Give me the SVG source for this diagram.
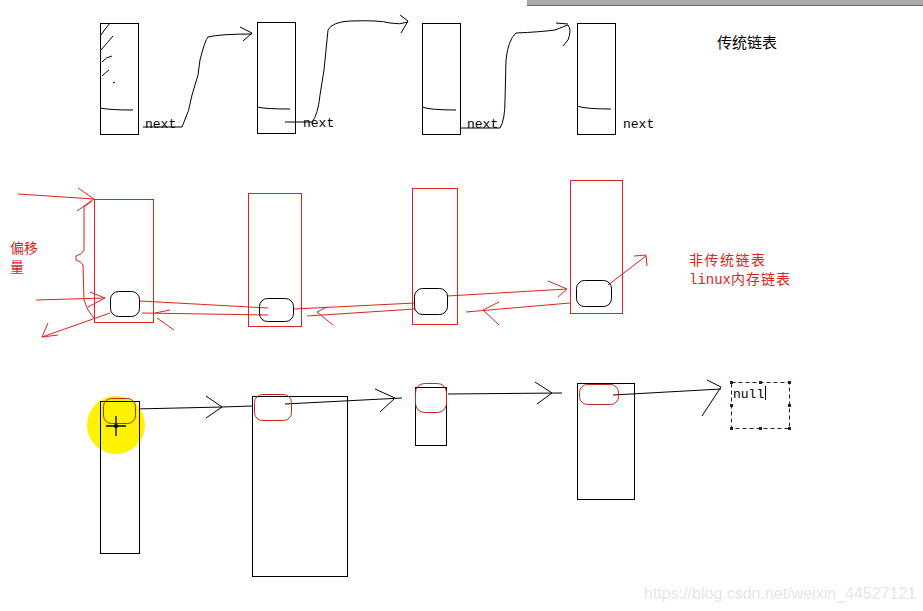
<svg xmlns="http://www.w3.org/2000/svg" width="923" height="611" viewBox="0 0 923 611">
<style>
.k{fill:none;stroke:#000;stroke-width:1}
.r{fill:none;stroke:#e0231c;stroke-width:1}
.rr{fill:none;stroke:#c8251c;stroke-width:1}
.mono{font-family:"Liberation Mono",monospace;font-size:13px;fill:#000}
.cn{font-family:"Noto Sans CJK SC",sans-serif;font-size:14px}
</style>
<rect width="923" height="611" fill="#fff"/>
<rect x="527" y="0" width="396" height="5" fill="#a9a9a9"/>
<line x1="527" y1="5.5" x2="923" y2="5.5" stroke="#6a6a6a"/>

<g id="top-row">
  <g id="t1">
    <rect class="k" x="100.5" y="23.5" width="38" height="111"/>
    <path class="k" d="M100 108 Q110 110 133 110"/>
    <path class="k" d="M101 35 Q105 29 110 23 M101 50 Q108 42 113 36 M102 62 Q106 57 112 56 M102 76 Q106 72 109 70 M113 83 L115 82"/>
  </g>
  <g id="t2">
    <rect class="k" x="257.5" y="22.5" width="38" height="111"/>
    <path class="k" d="M257 107 Q265 109 290 109"/>
  </g>
  <g id="t3">
    <rect class="k" x="422.5" y="23.5" width="38" height="111"/>
    <path class="k" d="M422 107 Q430 110 456 110"/>
  </g>
  <g id="t4">
    <rect class="k" x="577.5" y="23.5" width="38" height="111"/>
    <path class="k" d="M577 106 Q585 109 611 109"/>
  </g>
  <text class="mono" x="145" y="128">next</text>
  <text class="mono" x="303" y="127">next</text>
  <text class="mono" x="467" y="128">next</text>
  <text class="mono" x="623" y="128">next</text>
  <text x="717" y="48" font-family="Noto Sans CJK SC,sans-serif" font-size="15" fill="#000">传统链表</text>
</g>

<g id="connectors">
  <path class="k" d="M143 127 L182 127 Q190 110 192 95 L198 75 L200 60 Q205 40 208 37 Q220 34 252 34 M240 27 L252 33 L243 41"/>
  <path class="k" d="M285 122 L312 122 Q318 115 320 95 L324 70 L328 30 Q332 22 350 21 Q380 20 390 23 Q400 25 408 22 M400 15 L408 21 L401 33"/>
  <path class="k" d="M461 128 L500 128 Q505 120 505 100 L506 60 Q508 40 516 33 Q540 32 555 30 Q565 26 568 25 Q572 30 568 40 L563 46 M556 23 L568 24"/>

  <path class="r" d="M18 194 L94 199 M78 188 L94 199 L77 211"/>
  <path class="r" d="M92 201 L84 207 L84 250 Q83 254 76 256 L76 260 Q82 262 83 265 L84 300 L88 310 L94 318"/>
  <path class="r" d="M36 300 L105 298 M90 292 L105 298 L88 307"/>
  <path class="r" d="M110 313 L42 337 M48 323 L42 337 L58 335"/>
  <path class="r" d="M140 301 L268 308"/>
  <path class="r" d="M142 313 L268 315"/>
  <path class="r" d="M155 313 L170 310 M157 318 L174 330"/>
  <path class="r" d="M294 309 L415 303"/>
  <path class="r" d="M307 316 L415 309"/>
  <path class="r" d="M317 312 L327 307 M317 312 L333 325"/>
  <path class="r" d="M447 296 L567 289 M548 281 L567 289 L558 297"/>
  <path class="r" d="M570 303 L466 312 M499 302 L483 310 L499 325"/>
  <path class="r" d="M608 285 L646 256 M634 256 L646 255 L647 266"/>

  <path class="k" d="M135 409 L222 407 L252 406 M206 396 L222 407 L206 418"/>
  <path class="k" d="M285 404 L402 398 M375 389 L395 398 L380 412"/>
  <path class="k" d="M448 394 L562 393 M535 382 L552 393 L537 404"/>
  <path class="k" d="M613 395 L721 389 M707 380 L721 387 L702 416"/>
</g>

<g id="mid-row">
  <g id="m1">
    <rect class="r" x="94.5" y="199.5" width="59" height="123"/>
    <rect class="k" x="110.5" y="291.5" width="29" height="25" rx="8"/>
  </g>
  <g id="m2">
    <rect class="r" x="248.5" y="193.5" width="53" height="133"/>
    <rect class="k" x="259.5" y="298.5" width="34" height="23" rx="8"/>
  </g>
  <g id="m3">
    <rect class="r" x="412.5" y="188.5" width="45" height="136"/>
    <rect class="k" x="414.5" y="288.5" width="33" height="26" rx="8"/>
  </g>
  <g id="m4">
    <rect class="r" x="570.5" y="180.5" width="52" height="133"/>
    <rect class="k" x="576.5" y="280.5" width="35" height="26" rx="8"/>
  </g>
  <text class="cn" x="10" y="253" font-size="15" fill="#e0231c">偏移</text>
  <text class="cn" x="10" y="272" font-size="15" fill="#e0231c">量</text>
  <text class="cn" x="689" y="265" letter-spacing="1.5" fill="#e0231c">非传统链表</text>
  <text x="689" y="284" font-family="Liberation Mono,monospace" font-size="14" fill="#e0231c">linux<tspan font-family="Noto Sans CJK SC,sans-serif" font-size="14" letter-spacing="1">内存链表</tspan></text>
</g>

<g id="bottom-row">
  <g id="b1">
    <circle cx="116" cy="425" r="29" fill="#fff200"/>
    <rect class="k" x="100.5" y="401.5" width="39" height="152"/>
    <rect class="rr" x="103.5" y="398.5" width="32" height="25" rx="8"/>
    <path d="M106 426 L126 426 M116 416 L116 436" stroke="#000" stroke-width="1.3"/>
    <circle cx="116" cy="426" r="1.8" fill="none" stroke="#000"/>
  </g>
  <g id="b2">
    <rect class="k" x="252.5" y="396.5" width="95" height="180"/>
    <rect class="rr" x="254.5" y="394.5" width="37" height="26" rx="8"/>
  </g>
  <g id="b3">
    <rect class="k" x="415.5" y="387.5" width="31" height="58"/>
    <rect class="rr" x="415.5" y="383.5" width="31" height="29" rx="9"/>
  </g>
  <g id="b4">
    <rect class="k" x="577.5" y="383.5" width="57" height="116"/>
    <rect class="rr" x="579.5" y="384.5" width="39" height="20" rx="8"/>
  </g>
  <g id="null">
    <rect x="731.5" y="382.5" width="58" height="46" fill="none" stroke="#1a1f4d" stroke-dasharray="4,3"/>
    <g fill="#1a1f4d">
      <rect x="730" y="381" width="3" height="3"/><rect x="759" y="381" width="3" height="3"/><rect x="788" y="381" width="3" height="3"/>
      <rect x="730" y="404" width="3" height="3"/><rect x="788" y="404" width="3" height="3"/>
      <rect x="730" y="427" width="3" height="3"/><rect x="759" y="427" width="3" height="3"/><rect x="788" y="427" width="3" height="3"/>
    </g>
    <text x="733" y="398" font-family="Liberation Mono,monospace" font-size="13" fill="#000">null</text>
    <line x1="765.5" y1="386" x2="765.5" y2="400" stroke="#000"/>
  </g>
</g>

<text x="644" y="599" font-family="Liberation Sans,sans-serif" font-size="16" fill="#e6e6e6">https://blog.csdn.net/weixin_44527121</text>
</svg>
